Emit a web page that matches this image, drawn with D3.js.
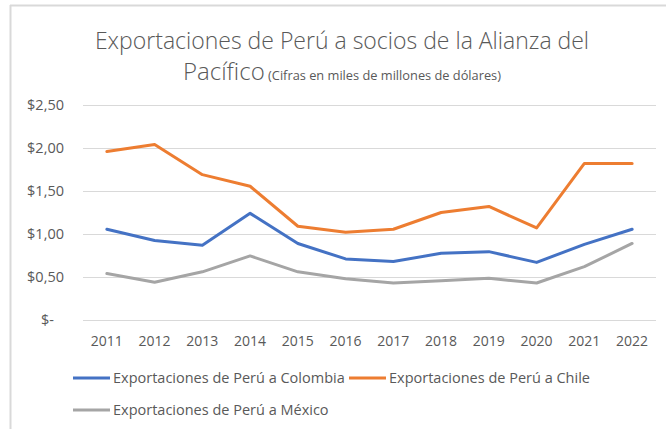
<!DOCTYPE html>
<html><head><meta charset="utf-8">
<script src="https://cdn.jsdelivr.net/npm/d3@7"></script>
<style>
html,body{margin:0;padding:0;background:#fff;}
svg{display:block;font-family:"Open Sans",sans-serif;}
</style></head><body>
<svg id="chart" width="666" height="429"></svg>
<script>
const years = ["2011","2012","2013","2014","2015","2016","2017","2018","2019","2020","2021","2022"];
const colombia = [1.055,0.925,0.87,1.24,0.89,0.71,0.68,0.775,0.795,0.67,0.88,1.055];
const chile = [1.96,2.04,1.69,1.555,1.09,1.02,1.055,1.25,1.32,1.07,1.82,1.82];
const mexico = [0.54,0.44,0.56,0.745,0.56,0.48,0.43,0.455,0.485,0.43,0.62,0.89];
const yTicks = [0,0.5,1,1.5,2,2.5];
const seriesNames = ["Exportaciones de Perú a Colombia","Exportaciones de Perú a Chile","Exportaciones de Perú a México"];
const titleLine1 = "Exportaciones de Perú a socios de la Alianza del";
const titleLine2 = "Pacífico";
const subtitle = "(Cifras en miles de millones de dólares)";

const colors = ["#4472C4","#ED7D31","#A5A5A5"];
const series = [colombia, chile, mexico];
const svg = d3.select("#chart");
const textColor = "#595959";

// frame
svg.append("line").attr("x1",10).attr("x2",666).attr("y1",5.5).attr("y2",5.5).attr("stroke","#d9d9d9").attr("stroke-width",2);
svg.append("line").attr("x1",10.5).attr("x2",10.5).attr("y1",5).attr("y2",429).attr("stroke","#d9d9d9").attr("stroke-width",2);

const x = d3.scaleBand().domain(years).range([83,656]);
const y = d3.scaleLinear().domain([0,2.5]).range([320,105]);

// gridlines
svg.append("g").selectAll("line").data(yTicks).join("line")
  .attr("x1",83).attr("x2",656)
  .attr("y1",d=>Math.round(y(d))+0.5).attr("y2",d=>Math.round(y(d))+0.5)
  .attr("stroke","#d9d9d9").attr("stroke-width",1);

// y axis labels
const fmt = d => d===0 ? "$-" : "$" + d.toFixed(2).replace(".",",");
const yAxis = d3.axisLeft(y).tickValues(yTicks).tickFormat(fmt).tickSize(0).tickPadding(0);
const gy = svg.append("g").attr("transform","translate(64,0)").call(yAxis);
gy.select(".domain").remove();
gy.selectAll("text").attr("fill",textColor).style("font-size","14.5px").style("font-family","Open Sans")
  .attr("dx", d => d===0 ? -10 : 0);

// x axis labels
const xAxis = d3.axisBottom(x).tickSize(0).tickPadding(0);
const gx = svg.append("g").attr("transform","translate(0,336)").call(xAxis);
gx.select(".domain").remove();
gx.selectAll("text").attr("fill",textColor).style("font-size","14px").style("font-family","Open Sans").attr("dy","0.71em");

// lines
const line = d3.line().x((d,i)=>x(years[i])+x.bandwidth()/2).y(d=>y(d));
svg.append("g").selectAll("path").data(series).join("path")
  .attr("d",d=>line(d)).attr("fill","none")
  .attr("stroke",(d,i)=>colors[i]).attr("stroke-width",3)
  .attr("stroke-linejoin","round").attr("stroke-linecap","round");

// title
const t1 = svg.append("text").attr("x",342).attr("y",49).attr("text-anchor","middle")
  .attr("fill",textColor).style("font-size","23px").style("font-weight","300").text(titleLine1);
const t2 = svg.append("text").attr("x",342).attr("y",80).attr("text-anchor","middle").attr("fill",textColor);
t2.append("tspan").style("font-size","24px").style("font-weight","300").text(titleLine2);
t2.append("tspan").style("font-size","12.8px").text(" " + subtitle);

// legend
const legendItems = [
  {name:seriesNames[0], color:colors[0], x:73, y:378},
  {name:seriesNames[1], color:colors[1], x:349, y:378},
  {name:seriesNames[2], color:colors[2], x:73, y:410}
];
const lg = svg.append("g").selectAll("g").data(legendItems).join("g")
  .attr("transform",d=>`translate(${d.x},${d.y})`);
lg.append("line").attr("x1",0).attr("x2",37).attr("y1",0).attr("y2",0)
  .attr("stroke",d=>d.color).attr("stroke-width",3);
lg.append("text").attr("x",40).attr("y",0).attr("dy","0.35em").attr("fill",textColor)
  .style("font-size","14.5px").text(d=>d.name);
</script>
</body></html>
